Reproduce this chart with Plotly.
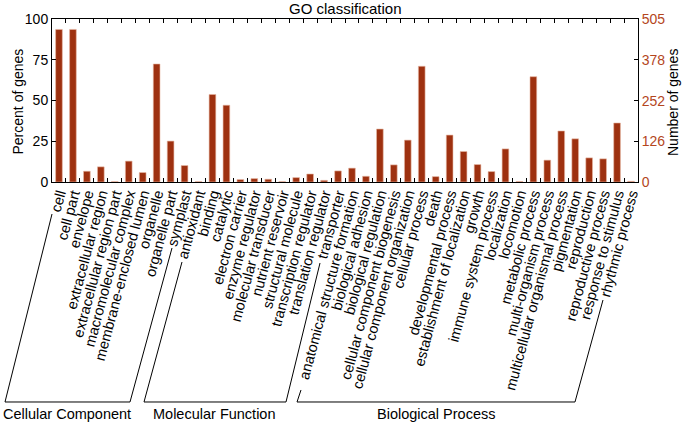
import plotly.graph_objects as go

categories = [
    "cell", "cell part", "envelope", "extracellular region", "extracellular region part",
    "macromolecular complex", "membrane-enclosed lumen", "organelle", "organelle part", "symplast",
    "antioxidant", "binding", "catalytic", "electron carrier", "enzyme regulator",
    "molecular transducer", "nutrient reservoir", "structural molecule", "transcription regulator",
    "translation regulator", "transporter",
    "anatomical structure formation", "biological adhesion", "biological regulation",
    "cellular component biogenesis", "cellular component organization", "cellular process", "death",
    "developmental process", "establishment of localization", "growth", "immune system process",
    "localization", "locomotion", "metabolic process", "multi-organism process",
    "multicellular organismal process", "pigmentation", "reproduction", "reproductive process",
    "response to stimulus", "rhythmic process",
]
percent = [
    93.6, 93.6, 6.6, 9.3, 0.2, 12.8, 5.8, 72.4, 25.1, 10.1,
    0.2, 53.7, 47.1, 1.5, 2.1, 1.7, 0.2, 2.7, 4.9, 1.0, 6.8,
    8.5, 3.5, 32.5, 10.5, 25.7, 71.0, 3.3, 28.8, 18.7, 10.7, 6.4,
    20.3, 0.3, 64.6, 13.4, 31.3, 26.5, 14.8, 14.2, 36.2, 0.4,
]
groups = ["Cellular Component", "Molecular Function", "Biological Process"]
total_genes = 505
percent_ticks = [0, 25, 50, 75, 100]
gene_ticks = [0, 126, 252, 378, 505]

W, H = 685, 424
ML, MR, MT, MB = 52, 47, 19, 242
PW, PH = W - ML - MR, H - MT - MB


def px(x):
    return (x - ML) / PW


def py(y):
    return (H - MB - y) / PH


FONT = "Liberation Sans, Arial, Helvetica, sans-serif"
BAR = "#9E3110"
RIGHT = "#B4461D"

fig = go.Figure()
fig.add_bar(
    x=categories, y=percent, width=0.48,
    marker=dict(color=BAR, line=dict(color="#E8B8A4", width=0.6)),
    showlegend=False,
)
fig.add_scatter(
    x=categories, y=[p * total_genes / 100 for p in percent], yaxis="y2",
    mode="markers", marker=dict(opacity=0), hoverinfo="skip", showlegend=False,
)

# bracket outlines (pixel positions of the group frames)
brackets = [
    [(52, 214), (5, 402), (130, 402), (172, 248)],
    [(182, 262), (144, 402), (286, 402), (320, 263)],
    [(301, 390), (297, 402), (575, 402), (603, 300)],
]
label_pos = [(67, 414), (214, 414), (436, 414)]

shapes = []
for pts in brackets:
    path = "M " + " L ".join(f"{px(x):.5f},{py(y):.5f}" for x, y in pts)
    shapes.append(dict(type="path", xref="paper", yref="paper", path=path,
                       line=dict(color="black", width=1)))

annotations = []
for name, (x, y) in zip(groups, label_pos):
    annotations.append(dict(text=name, xref="paper", yref="paper", x=px(x), y=py(y),
                            xanchor="center", yanchor="middle", showarrow=False,
                            font=dict(family=FONT, size=14.5, color="black")))
# axis titles
annotations.append(dict(text="Percent of genes", xref="paper", yref="paper", x=px(17.5),
                        y=py(102), textangle=-90, xanchor="center", yanchor="middle",
                        showarrow=False, font=dict(family=FONT, size=14, color="black")))
annotations.append(dict(text="Number of genes", xref="paper", yref="paper", x=px(673),
                        y=py(102), textangle=-90, xanchor="center", yanchor="middle",
                        showarrow=False, font=dict(family=FONT, size=14, color="black")))
annotations.append(dict(text="GO classification", xref="paper", yref="paper", x=0.5,
                        y=py(8.5), xanchor="center", yanchor="middle",
                        showarrow=False, font=dict(family=FONT, size=15, color="black")))

fig.update_layout(
    width=W, height=H,
    margin=dict(l=ML, r=MR, t=MT, b=MB, pad=0, autoexpand=False),
    paper_bgcolor="white", plot_bgcolor="white",
    font=dict(family=FONT, size=14, color="black"),
    bargap=0.52,
    xaxis=dict(
        type="category", range=[-0.5, len(categories) - 0.5], tickangle=-75,
        tickmode="array", tickvals=categories, ticktext=categories,
        tickson="boundaries", ticks="inside", ticklen=4, tickcolor="black",
        showline=True, linecolor="black", linewidth=1, mirror="ticks",
        showgrid=False, zeroline=False, tickfont=dict(family=FONT, size=14.5),
        automargin=False, ticklabelstandoff=-3,
    ),
    yaxis=dict(
        range=[0, 100], tickvals=percent_ticks, ticks="inside", ticklen=4,
        tickcolor="black", showline=True, linecolor="black", linewidth=1,
        showgrid=False, zeroline=False, tickfont=dict(family=FONT, size=14),
        automargin=False,
    ),
    yaxis2=dict(
        overlaying="y", side="right", range=[0, total_genes], tickvals=gene_ticks,
        ticks="inside", ticklen=4, tickcolor="black", showline=True,
        linecolor="black", linewidth=1, showgrid=False, zeroline=False,
        tickfont=dict(family=FONT, size=14, color=RIGHT), automargin=False,
    ),
    shapes=shapes,
    annotations=annotations,
)

fig.write_html(
    "out.html",
    config={"displayModeBar": False},
    post_script="document.body.style.margin='0';document.body.style.overflow='hidden';",
)
